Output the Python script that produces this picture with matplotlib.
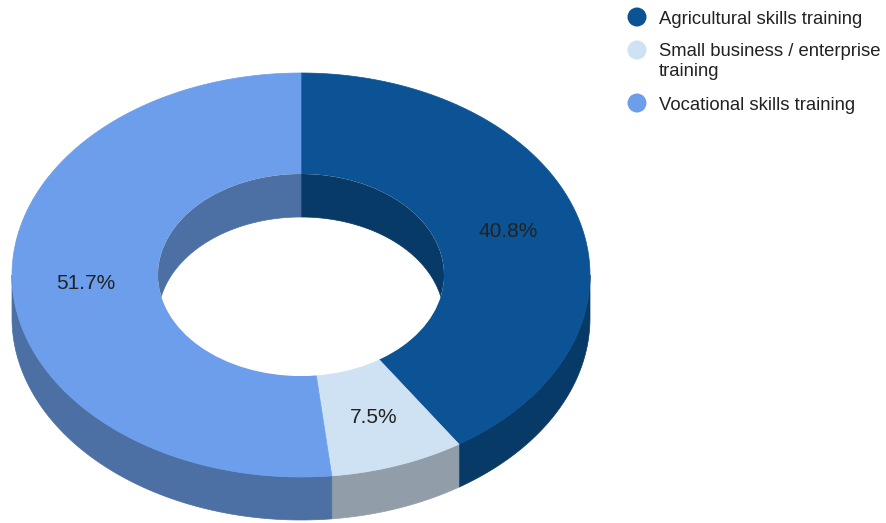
import numpy as np
import matplotlib
matplotlib.use("Agg")
import matplotlib.pyplot as plt
from matplotlib.patches import Polygon, Ellipse, Circle
from matplotlib.colors import to_rgb

categories = ["Agricultural skills training",
              "Small business / enterprise\ntraining",
              "Vocational skills training"]
values = [40.8, 7.5, 51.7]
colors = ["#0b5394", "#cfe2f3", "#6d9eeb"]

# pixel-space geometry of the tilted donut
W, H = 887, 523
cx, cy = 301, 275
rx_out, ry_out = 289, 202
rx_in, ry_in = 143, 101
depth = 43
shade = 0.7

fig = plt.figure(figsize=(W / 100, H / 100), dpi=100)
ax = fig.add_axes([0, 0, 1, 1])
ax.set_xlim(0, W)
ax.set_ylim(H, 0)
ax.axis("off")


def pt(theta, rx, ry, dy=0.0):
    """Point on ellipse; theta in degrees clockwise from 12 o'clock."""
    t = np.radians(theta)
    return cx + rx * np.sin(t), cy - ry * np.cos(t) + dy


def arc(a0, a1, rx, ry, dy=0.0, n=200):
    th = np.linspace(a0, a1, n)
    x, y = pt(th, rx, ry, dy)
    return np.column_stack([x, y])


def darker(c):
    r, g, b = to_rgb(c)
    return (r * shade, g * shade, b * shade)


total = sum(values)
bounds = np.concatenate([[0], np.cumsum(values) / total * 360.0])

# outer walls: visible on the front half (90..270 deg)
for i, col in enumerate(colors):
    a0, a1 = max(bounds[i], 90), min(bounds[i + 1], 270)
    if a1 <= a0:
        continue
    top = arc(a0, a1, rx_out, ry_out)
    bot = arc(a1, a0, rx_out, ry_out, depth)
    ax.add_patch(Polygon(np.vstack([top, bot]), closed=True,
                         facecolor=darker(col), edgecolor=darker(col),
                         lw=0.5, zorder=1))

# top faces of the ring
for i, col in enumerate(colors):
    a0, a1 = bounds[i], bounds[i + 1]
    outer = arc(a0, a1, rx_out, ry_out)
    inner = arc(a1, a0, rx_in, ry_in)
    ax.add_patch(Polygon(np.vstack([outer, inner]), closed=True,
                         facecolor=col, edgecolor=col, lw=0.5, zorder=2))

# white hole
hole = Ellipse((cx, cy), 2 * rx_in, 2 * ry_in, facecolor="white",
               edgecolor="none", zorder=3)
ax.add_patch(hole)

# inner walls seen through the hole: back half (-90..90 deg)
clip = Ellipse((cx, cy), 2 * rx_in, 2 * ry_in, facecolor="none",
               edgecolor="none", transform=ax.transData)
ax.add_patch(clip)
for i, col in enumerate(colors):
    for lo, hi in [(-90, 90), (270, 450)]:
        a0, a1 = max(bounds[i], lo), min(bounds[i + 1], hi)
        if a1 <= a0:
            continue
        top = arc(a0, a1, rx_in, ry_in)
        bot = arc(a1, a0, rx_in, ry_in, depth)
        p = Polygon(np.vstack([top, bot]), closed=True,
                    facecolor=darker(col), edgecolor=darker(col),
                    lw=0.5, zorder=4)
        ax.add_patch(p)
        p.set_clip_path(clip)

# percentage labels at each slice's mid-angle
rx_mid, ry_mid = (rx_out + rx_in) / 2, (ry_out + ry_in) / 2
for i, v in enumerate(values):
    mid = (bounds[i] + bounds[i + 1]) / 2
    x, y = pt(mid, rx_mid, ry_mid)
    ax.text(x, y, f"{v:.1f}%", ha="center", va="center", fontsize=15,
            color="#222222", family="Liberation Sans", zorder=6)

# legend
leg_y = [17, 50, 103]
for col, lab, y in zip(colors, categories, leg_y):
    ax.add_patch(Circle((637, y), 9.5, facecolor=col, edgecolor="none",
                        zorder=6))
    ax.text(659, y, lab.split("\n")[0], ha="left", va="center_baseline",
            fontsize=13.3, color="#222222", family="Liberation Sans",
            zorder=6)
    if "\n" in lab:
        ax.text(659, y + 20, lab.split("\n")[1], ha="left",
                va="center_baseline", fontsize=13.3, color="#222222",
                family="Liberation Sans", zorder=6)

fig.savefig("out.png", dpi=100, facecolor="white")
